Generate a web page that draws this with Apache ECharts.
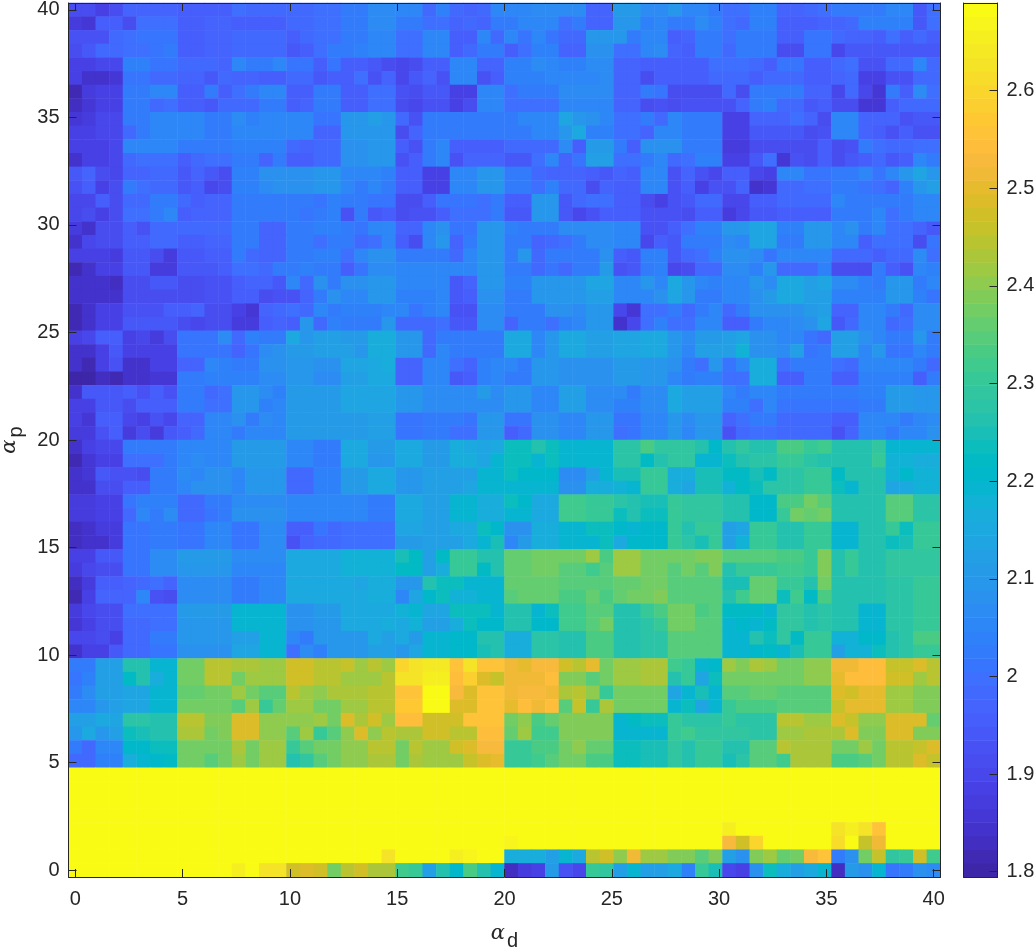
<!DOCTYPE html>
<html>
<head>
<meta charset="utf-8">
<style>html,body{margin:0;padding:0;background:#fff}#c{width:1034px;height:951px}</style>
<script src="https://cdn.jsdelivr.net/npm/echarts@6/dist/echarts.min.js"></script>
</head>
<body>
<div id="c"></div>
<script>
// Values, in hundredths. First row is the top of the plot (alpha_p = 40).
const rowsTopDown = [
[191,192,188,192,197,197,197,197,195,195,196,196,200,198,199,199,199,199,200,200,203,203,207,207,205,205,199,204,199,197,198,205,205,205,207,207,207,207,197,197,211,211,207,207,210,206,206,203,200,200,204,204,197,197,199,200,202,203,203,203,206,206,194,200],
[187,186,195,195,192,200,200,200,196,196,197,197,196,196,196,196,199,199,200,200,202,202,207,207,203,203,200,200,197,199,197,202,202,205,205,205,200,202,197,197,210,210,204,206,203,202,207,204,200,198,204,204,196,196,196,197,197,199,204,204,204,204,194,200],
[193,193,193,198,200,201,201,201,196,196,197,197,198,198,198,198,196,198,200,200,202,202,206,206,200,200,206,206,196,196,205,198,205,201,205,201,199,199,210,210,210,202,206,206,196,197,203,203,200,203,203,203,196,196,201,201,198,197,197,195,200,196,198,196],
[191,194,198,198,200,200,201,203,196,196,197,197,198,198,198,198,194,196,200,202,202,204,206,206,200,200,206,206,195,198,203,203,195,200,204,204,197,197,208,208,200,200,205,207,197,196,203,203,198,203,203,203,191,191,201,201,190,194,194,194,194,194,194,194],
[188,188,190,190,204,204,201,201,198,198,198,197,205,203,203,205,201,201,196,201,195,195,194,192,190,191,196,196,205,205,197,197,204,204,207,205,204,204,207,207,197,197,195,195,195,195,195,200,200,200,199,196,201,201,196,196,198,200,193,193,198,198,205,199],
[188,184,184,186,201,201,198,198,197,197,194,199,197,197,195,195,199,199,194,195,195,200,193,197,190,194,197,193,205,205,193,196,204,204,204,206,205,205,205,207,197,197,192,195,195,195,195,198,198,198,196,198,198,198,195,195,197,199,188,188,193,193,199,199],
[182,187,189,189,203,203,205,205,196,196,203,196,200,203,205,205,196,196,202,202,195,195,200,200,193,191,194,194,189,189,205,205,200,202,202,202,207,207,207,207,197,197,203,201,192,191,192,192,198,192,202,202,202,202,197,197,190,198,190,186,202,195,207,200],
[183,186,189,189,203,202,198,200,196,196,194,199,198,198,203,203,195,197,202,202,195,195,200,200,192,190,193,193,189,191,205,205,200,200,200,200,205,205,205,205,197,197,192,193,191,193,193,193,193,197,202,204,199,199,194,196,191,191,186,186,196,199,199,199],
[186,187,190,190,203,203,206,206,206,206,202,202,207,204,206,206,205,205,201,201,209,209,212,210,198,193,203,203,203,203,203,203,203,205,206,206,214,210,208,205,200,200,202,198,205,203,203,203,189,189,197,197,197,200,197,192,205,205,197,197,197,193,194,194],
[188,188,190,190,199,202,206,206,206,206,202,202,206,206,206,206,205,205,197,197,209,209,209,209,192,197,203,203,203,203,203,203,203,203,206,206,209,215,204,204,200,200,197,205,205,202,203,203,189,189,194,194,194,194,192,193,205,205,197,195,193,195,193,193],
[188,188,189,190,205,205,205,205,203,203,202,202,204,204,204,204,199,197,199,199,208,208,209,209,195,193,203,205,196,196,196,196,198,198,198,198,207,195,211,211,202,196,208,208,208,203,203,203,187,187,191,191,191,191,191,195,191,193,203,200,198,198,200,200],
[185,189,189,190,198,200,200,200,196,198,200,200,203,203,197,203,196,196,198,198,208,208,210,210,193,196,203,206,193,197,197,197,194,194,200,205,197,201,212,212,200,200,202,205,198,200,204,204,188,188,194,200,186,193,191,195,191,194,196,198,194,196,205,203],
[194,197,192,190,197,197,198,198,194,197,194,191,204,204,208,208,208,208,210,210,205,205,205,204,196,196,188,188,205,205,209,209,203,203,198,197,197,197,196,194,197,195,205,205,193,197,193,190,195,195,190,188,206,206,201,201,203,203,205,201,206,209,214,209],
[193,195,189,191,202,200,199,199,194,195,190,192,204,204,207,208,208,208,210,210,205,203,206,203,196,196,188,188,205,205,209,209,203,203,200,204,198,198,191,197,196,196,205,205,193,196,189,193,193,197,184,186,199,199,200,200,203,203,201,200,197,204,209,212],
[190,190,195,192,198,198,203,203,198,196,197,197,203,203,203,203,203,203,201,204,203,203,201,201,192,192,195,201,201,201,200,203,196,196,209,209,194,198,200,200,196,196,191,189,193,194,198,198,190,190,195,195,199,199,199,199,205,203,203,203,203,203,206,206],
[190,192,188,192,200,200,202,205,196,197,197,197,203,203,203,203,202,201,202,204,193,202,194,195,191,193,193,196,200,200,200,202,194,194,209,209,194,190,193,195,195,195,193,193,193,191,196,196,187,190,194,194,196,196,196,196,203,203,203,205,200,202,206,206],
[187,184,192,192,195,193,198,198,198,198,198,198,202,202,197,197,203,203,204,204,203,201,206,206,197,197,205,208,201,201,209,209,204,202,202,202,207,207,207,207,205,205,193,193,195,200,204,204,209,209,214,214,204,204,210,210,205,208,202,205,200,200,197,194],
[184,190,192,192,195,196,199,199,196,196,197,197,202,202,197,197,203,203,200,202,203,199,200,205,196,192,205,209,197,203,209,209,202,202,197,198,200,203,207,207,205,205,190,196,194,202,202,202,207,205,214,214,203,203,210,210,206,206,196,200,200,200,192,201],
[188,188,188,187,194,194,191,187,194,194,195,195,202,198,197,197,203,203,204,204,200,205,208,208,203,203,203,203,199,205,210,210,202,210,199,203,203,203,203,208,196,194,204,204,194,198,200,204,208,208,207,201,205,205,205,205,199,198,198,195,198,198,207,200],
[181,185,189,189,194,194,187,187,194,194,194,195,200,200,199,202,202,204,202,202,195,201,207,207,205,205,205,205,205,205,210,210,203,203,199,201,198,202,202,211,193,194,203,204,190,191,198,198,207,207,204,209,198,198,198,204,192,192,192,203,195,193,205,204],
[185,184,184,183,192,192,194,194,192,192,193,193,195,197,197,194,205,199,208,203,208,208,210,210,205,205,205,205,194,197,210,210,204,204,209,209,210,210,214,214,206,206,209,205,215,210,206,204,206,206,209,207,215,215,213,214,207,207,204,203,210,210,203,205],
[185,185,185,185,192,192,192,192,192,192,193,193,196,196,191,193,193,197,203,208,205,205,209,209,204,204,204,205,194,196,208,208,203,203,209,209,210,210,213,213,206,206,206,208,214,210,202,202,205,205,208,211,215,215,212,213,204,204,204,204,209,209,204,201],
[182,184,188,188,193,193,193,195,195,197,191,191,188,186,197,199,200,198,205,203,204,204,204,205,205,201,204,205,193,193,207,207,203,203,203,208,208,207,209,209,190,186,200,200,202,199,203,206,198,203,208,208,208,208,211,212,197,197,205,205,202,198,207,207],
[182,184,188,188,194,194,194,194,191,190,191,191,187,187,196,197,195,209,199,204,203,203,203,210,198,198,198,200,194,194,207,207,197,203,203,200,204,206,209,209,185,190,200,204,200,200,205,206,195,195,202,206,206,207,208,214,194,199,205,205,198,200,207,207],
[188,190,195,195,189,190,187,191,201,201,201,207,199,204,203,203,215,209,212,212,211,211,217,217,209,209,199,203,203,203,203,203,215,215,206,210,215,215,212,212,214,214,215,215,209,207,211,211,212,214,208,208,206,206,201,198,212,212,208,206,202,202,209,202],
[185,185,189,194,189,189,189,189,201,201,201,201,197,201,207,208,211,211,213,213,212,210,217,217,209,209,199,205,203,203,203,203,215,215,206,209,215,215,212,212,214,214,215,215,209,205,212,212,212,218,208,208,207,213,201,203,213,213,205,210,201,201,205,203],
[184,182,189,193,185,185,189,189,197,197,206,204,203,203,208,208,210,210,208,208,214,214,215,216,197,197,205,205,200,197,204,206,206,202,210,210,208,208,208,208,211,211,209,209,208,203,200,209,201,206,216,216,200,203,202,202,200,198,205,205,205,205,202,198],
[180,180,183,182,184,184,186,186,202,202,204,204,204,204,207,207,209,209,207,207,212,212,215,215,197,197,205,205,194,196,204,206,203,203,210,210,208,208,208,208,211,211,209,209,205,203,204,204,200,200,217,217,195,195,202,202,196,196,204,204,204,204,195,203],
[185,194,194,194,196,193,195,193,203,203,198,200,209,209,207,204,211,211,211,211,214,214,214,214,210,210,207,207,207,207,211,207,209,209,206,206,212,212,207,207,207,202,207,207,215,212,212,212,205,202,206,206,202,202,202,202,202,202,204,204,211,211,209,209],
[188,189,194,194,192,196,196,196,203,203,200,200,210,210,204,206,211,211,211,211,214,214,214,214,210,210,207,207,207,207,207,207,209,209,206,206,212,212,207,207,204,204,207,207,215,212,212,212,204,204,200,205,201,201,201,201,201,201,203,203,211,211,209,209],
[189,186,196,196,190,189,193,190,197,197,206,206,208,203,207,205,211,211,211,211,211,211,213,213,201,201,203,203,203,201,209,209,201,201,208,208,206,206,210,210,201,201,206,206,210,207,210,210,197,200,203,203,199,199,199,199,196,196,206,206,206,202,205,207],
[187,187,193,196,187,192,187,194,196,198,206,206,203,205,205,205,211,211,211,211,211,211,213,213,201,201,203,203,200,200,209,209,196,198,208,208,206,206,210,210,200,201,206,206,210,206,209,209,193,198,200,200,199,199,199,199,193,197,206,206,202,205,205,208],
[184,188,190,190,203,203,203,203,205,205,205,205,211,211,211,211,205,205,202,202,215,215,211,211,215,215,211,211,216,215,214,215,223,223,227,224,220,220,220,220,228,228,233,229,229,229,226,221,226,229,227,227,233,233,230,232,227,227,227,229,219,219,219,219],
[182,186,189,189,200,200,200,203,205,207,205,205,211,211,211,211,205,205,203,203,215,215,210,210,215,215,211,211,217,217,214,220,223,223,220,224,220,220,220,220,228,228,222,227,229,229,220,220,224,226,228,228,230,230,228,226,226,226,226,230,218,218,216,216],
[185,186,194,193,193,192,203,203,207,205,208,208,205,210,210,210,199,199,204,204,211,211,215,215,210,210,212,212,212,212,220,220,224,221,221,221,207,207,213,220,225,225,231,231,216,216,225,225,222,222,225,222,228,228,230,230,222,226,226,226,218,221,218,218],
[185,185,192,192,195,195,203,203,206,208,208,208,205,209,209,209,199,199,204,204,211,211,215,215,210,210,212,212,212,214,220,220,219,219,220,220,208,208,216,216,218,220,231,231,216,214,225,225,218,222,224,228,228,228,230,230,223,219,226,226,214,215,218,218],
[187,187,189,189,201,204,204,204,199,199,203,203,207,207,207,207,205,205,205,205,205,205,203,203,215,215,213,213,219,219,216,216,224,221,215,215,232,232,230,230,228,226,225,225,230,229,229,229,226,226,221,221,233,233,238,234,226,226,226,226,235,235,228,228],
[187,187,189,189,198,205,203,207,198,198,201,203,208,208,208,208,206,206,205,205,206,206,203,203,215,215,213,213,219,219,216,216,220,220,215,215,232,232,230,230,224,226,223,223,230,229,229,229,226,226,221,221,230,238,236,238,226,226,226,226,235,235,228,228],
[183,185,187,187,201,201,203,203,201,201,206,206,201,201,207,207,195,195,201,198,200,200,200,200,214,214,213,213,215,215,223,221,208,208,217,217,220,220,223,223,221,219,221,221,230,227,230,230,212,214,231,231,226,226,230,230,220,220,227,227,231,224,231,231],
[183,185,185,187,201,201,203,203,201,201,206,206,201,201,207,207,193,197,199,199,200,200,200,200,211,211,212,212,212,215,219,225,205,211,217,217,219,219,220,224,215,221,221,221,231,228,225,230,212,218,231,231,226,226,230,230,220,220,227,227,223,225,231,231],
[188,188,194,194,201,201,207,207,211,211,211,211,207,207,207,207,215,215,215,215,218,218,218,218,225,222,212,222,230,230,226,226,236,236,238,238,238,238,241,233,242,242,238,238,237,238,239,239,234,234,234,234,233,233,230,239,227,231,226,226,229,229,229,229],
[187,190,192,192,201,201,207,207,210,210,210,210,206,206,206,206,215,215,215,215,218,218,218,218,222,222,212,217,230,230,222,226,236,236,238,238,234,235,232,234,242,242,238,238,234,238,235,239,226,230,230,230,232,232,230,239,227,231,226,226,229,229,229,229],
[183,187,196,196,197,199,200,197,207,207,207,207,203,203,206,206,215,215,215,215,215,214,217,217,210,210,226,223,223,219,220,220,236,236,236,236,234,235,235,235,236,236,238,238,234,234,234,234,225,225,236,236,231,231,227,238,227,227,227,227,228,228,230,230],
[182,188,197,197,197,205,193,191,207,207,207,207,203,203,206,206,215,215,215,215,215,215,217,217,205,214,221,223,218,218,220,220,234,236,236,236,233,233,236,233,236,237,237,239,234,234,234,234,226,232,236,236,224,232,222,233,227,227,227,227,228,228,230,230],
[187,190,192,192,200,200,200,200,211,211,211,211,219,219,219,219,208,208,211,211,215,215,215,215,218,220,214,214,224,224,224,220,227,227,220,224,232,232,235,235,227,227,230,233,238,238,233,235,222,222,222,219,229,229,226,228,226,226,219,219,228,228,230,230],
[186,188,192,192,199,199,200,200,210,210,210,210,219,219,219,219,208,208,210,210,215,215,215,217,215,218,213,213,217,224,221,221,227,227,221,221,232,232,235,238,227,227,228,231,238,238,235,235,219,221,219,222,229,229,226,228,226,226,219,219,228,228,231,231],
[190,190,192,189,198,198,202,202,209,209,209,209,213,213,219,219,206,202,210,210,210,210,215,212,215,211,219,219,221,221,227,227,217,217,228,228,227,227,233,233,227,227,228,228,235,234,235,235,220,220,226,223,229,222,230,230,218,218,221,221,226,228,233,233],
[185,189,189,194,199,199,201,201,208,208,208,208,214,214,219,219,200,207,204,209,209,209,213,212,210,214,220,220,221,221,225,226,217,217,228,228,227,227,233,233,227,227,228,228,235,234,234,234,219,219,221,222,219,225,230,230,212,218,218,223,227,228,231,231],
[203,203,212,212,226,226,220,220,238,238,245,245,243,243,241,241,247,247,244,244,246,242,245,242,260,262,264,264,256,262,256,256,252,250,253,253,247,244,250,238,242,242,243,243,232,230,220,221,241,239,243,241,238,238,240,240,252,252,254,254,246,246,248,244],
[201,204,212,212,222,226,217,220,238,238,245,245,238,241,241,241,247,247,244,244,241,241,242,245,262,262,265,265,254,259,249,246,252,252,252,254,239,239,234,238,242,242,243,243,227,231,214,223,238,238,238,237,237,237,240,240,250,254,254,254,247,247,242,245],
[203,207,213,213,214,214,220,220,236,236,238,238,242,238,235,234,245,242,240,243,243,243,244,244,256,256,269,269,253,249,255,255,252,253,253,251,243,245,240,231,237,237,237,237,214,219,225,220,234,234,236,236,234,234,234,234,249,247,250,250,242,242,239,239],
[206,206,209,213,214,214,220,220,237,237,237,238,235,241,231,236,241,242,237,237,241,242,244,244,257,257,269,269,249,249,255,255,250,254,251,254,235,246,231,243,237,237,237,237,220,223,214,220,231,233,233,233,234,234,234,234,246,250,250,250,242,242,239,239],
[212,212,215,214,228,228,226,226,244,244,239,239,249,249,240,240,240,240,241,238,248,243,247,241,254,254,247,247,247,255,255,255,238,240,233,236,239,239,239,239,220,222,224,223,230,228,228,228,230,228,228,228,244,244,242,242,248,246,240,240,248,248,248,236],
[209,215,209,212,224,225,227,227,243,243,237,239,248,248,240,240,235,241,231,235,240,249,240,245,243,243,247,247,244,244,254,254,236,241,232,232,239,239,239,239,220,220,220,220,230,232,229,229,229,229,228,228,241,241,243,243,243,248,239,239,248,248,239,239],
[202,199,205,205,221,221,223,223,237,237,237,237,243,238,241,241,231,235,238,238,240,240,244,244,237,245,241,241,247,249,253,253,230,230,233,233,237,240,236,236,223,223,225,225,229,227,231,231,227,227,235,235,245,243,243,243,238,238,241,238,244,244,246,248],
[199,199,204,204,216,220,221,222,237,237,235,237,241,238,241,241,227,229,234,238,240,240,243,243,237,243,241,241,242,246,249,250,231,231,232,235,238,238,233,233,223,223,225,225,229,227,230,230,225,228,235,235,232,243,243,243,233,233,234,238,244,244,248,246],
[269,269,269,269,269,269,269,269,269,269,269,269,269,269,269,269,269,269,269,269,269,269,269,269,269,269,269,269,269,269,269,269,269,269,269,269,269,269,269,269,269,269,269,269,269,269,269,269,269,269,269,269,269,269,269,269,269,269,269,269,269,269,269,269],
[269,269,269,269,269,269,269,269,269,269,269,269,269,269,269,269,269,269,269,269,269,269,269,269,269,269,269,269,269,269,269,269,269,269,269,269,269,269,269,269,269,269,269,269,269,269,269,269,269,269,269,269,269,269,269,269,269,269,269,269,269,269,269,269],
[269,269,269,269,269,269,269,269,269,269,269,269,269,269,269,269,269,269,269,269,269,269,269,269,269,269,269,269,269,269,269,269,269,269,269,269,269,269,269,269,269,269,269,269,269,269,269,269,269,269,269,269,269,269,269,269,269,269,269,269,269,269,269,269],
[269,269,269,269,269,269,269,269,269,269,269,269,269,269,269,269,269,269,269,269,269,269,269,269,269,269,269,269,269,269,269,269,269,269,269,269,269,269,269,269,269,269,269,269,269,269,269,269,269,269,269,269,269,269,269,269,269,269,269,269,269,269,269,269],
[269,269,269,269,269,269,269,269,269,269,269,269,269,269,269,269,269,269,269,269,269,269,269,269,269,269,269,269,269,269,269,269,269,269,269,269,269,269,269,269,269,269,269,269,269,269,269,269,266,269,269,269,269,269,269,269,262,265,262,255,269,269,269,269],
[269,269,269,269,269,269,269,269,269,269,269,269,269,269,269,269,269,269,269,269,269,269,269,269,269,269,269,269,269,269,269,269,267,269,269,269,269,269,269,269,269,269,269,269,269,269,269,269,253,247,260,269,269,269,269,269,261,269,246,251,269,269,269,269],
[269,269,269,269,269,269,269,269,269,269,269,269,269,269,269,269,269,269,269,269,269,269,269,263,269,269,269,269,266,267,269,269,217,217,217,212,220,215,244,247,240,251,241,241,239,239,235,239,212,208,239,241,236,238,253,256,203,208,237,246,229,231,247,232],
[269,269,269,269,269,269,269,269,269,269,269,269,266,269,263,263,247,249,247,238,244,247,243,243,232,230,213,226,221,233,226,220,183,187,188,211,193,190,231,229,213,219,213,213,215,204,231,225,190,189,208,224,216,212,215,219,183,211,208,219,201,203,208,207]
];
const xTickValues = [0,5,10,15,20,25,30,35,40];
const yTickValues = [0,5,10,15,20,25,30,35,40];
const barTickValues = [1.8,1.9,2,2.1,2.2,2.3,2.4,2.5,2.6];
const axisStart = -0.3175, axisEnd = 40.3175;
const colorMin = 1.7946, colorMax = 2.6896;
const parula = [
[0.2422,0.1504,0.6603],[0.2504,0.1650,0.7076],[0.2578,0.1818,0.7511],[0.2647,0.1978,0.7952],
[0.2706,0.2147,0.8364],[0.2751,0.2342,0.8710],[0.2783,0.2559,0.8991],[0.2803,0.2782,0.9221],
[0.2813,0.3006,0.9414],[0.2810,0.3228,0.9579],[0.2795,0.3447,0.9717],[0.2760,0.3667,0.9829],
[0.2699,0.3892,0.9906],[0.2602,0.4123,0.9952],[0.2440,0.4358,0.9988],[0.2206,0.4603,0.9973],
[0.1963,0.4847,0.9892],[0.1834,0.5074,0.9798],[0.1786,0.5289,0.9682],[0.1764,0.5499,0.9520],
[0.1687,0.5703,0.9359],[0.1540,0.5902,0.9218],[0.1460,0.6091,0.9079],[0.1380,0.6276,0.8973],
[0.1248,0.6459,0.8883],[0.1113,0.6635,0.8763],[0.0952,0.6798,0.8598],[0.0689,0.6948,0.8394],
[0.0297,0.7082,0.8163],[0.0036,0.7203,0.7917],[0.0067,0.7312,0.7660],[0.0433,0.7411,0.7394],
[0.0964,0.7500,0.7120],[0.1408,0.7584,0.6842],[0.1717,0.7670,0.6554],[0.1938,0.7758,0.6251],
[0.2161,0.7843,0.5923],[0.2470,0.7918,0.5567],[0.2906,0.7973,0.5188],[0.3406,0.8008,0.4789],
[0.3909,0.8029,0.4354],[0.4456,0.8024,0.3909],[0.5044,0.7993,0.3480],[0.5616,0.7942,0.3045],
[0.6174,0.7876,0.2612],[0.6720,0.7793,0.2227],[0.7242,0.7698,0.1910],[0.7738,0.7598,0.1646],
[0.8203,0.7498,0.1535],[0.8634,0.7406,0.1596],[0.9035,0.7330,0.1774],[0.9393,0.7288,0.2100],
[0.9728,0.7298,0.2394],[0.9956,0.7434,0.2371],[0.9970,0.7659,0.2199],[0.9952,0.7861,0.1963],
[0.9892,0.8137,0.1885],[0.9786,0.8386,0.1766],[0.9676,0.8636,0.1643],[0.9610,0.8890,0.1537],
[0.9597,0.9135,0.1423],[0.9628,0.9373,0.1265],[0.9691,0.9606,0.1064],[0.9769,0.9839,0.0805]
];

const ink = '#262626', font = 'Liberation Sans', fs = 20;
const N = rowsTopDown.length;
const step = (colorMax - colorMin) / 64;
const cssColor = c => 'rgb(' + c.map(v => Math.round(v * 255)).join(',') + ')';
const pieces = parula.map((c, i) => {
  const p = { color: cssColor(c) };
  if (i > 0) p.gte = colorMin + i * step;
  if (i < 63) p.lt = colorMin + (i + 1) * step;
  return p;
});
const cells = [];
rowsTopDown.forEach((row, t) => row.forEach((v, c) => cells.push([c, N - 1 - t, v / 100])));
const barCells = parula.map((_, i) => [0, i, colorMin + (i + 0.5) * step]);
const index = n => Array.from({ length: n }, (_, i) => i);

const valueAxis = (gridIndex, position, min, max, ticks, labelled, margin) => ({
  type: 'value', gridIndex, position, min, max, z: 10, scale: false,
  axisLine: { show: true, onZero: false, lineStyle: { color: ink, width: 1 } },
  axisTick: { show: !!ticks, inside: true, length: 8, lineStyle: { color: ink, width: 1 }, customValues: ticks || [] },
  axisLabel: { show: !!labelled, color: ink, fontFamily: font, fontSize: fs, margin: margin || 9, customValues: labelled ? ticks : [] },
  splitLine: { show: false }
});
const hiddenBand = (gridIndex, n, position) => ({
  type: 'category', gridIndex, position, data: index(n), show: false,
  axisLine: { onZero: false }
});

const option = {
  animation: false,
  backgroundColor: '#ffffff',
  grid: [
    { left: 68.5, top: 3, width: 872, height: 874, outerBoundsMode: 'none', containLabel: false },
    { left: 963.5, top: 3, width: 34, height: 874, outerBoundsMode: 'none', containLabel: false }
  ],
  xAxis: [
    hiddenBand(0, 64, 'bottom'),
    Object.assign(valueAxis(0, 'bottom', axisStart, axisEnd, xTickValues, true, 12), {
      name: '{a|\u03b1}{s|d}', nameLocation: 'middle', nameGap: 40,
      nameTextStyle: { rich: {
        a: { fontFamily: 'DejaVu Serif', fontStyle: 'italic', fontSize: 21, color: ink },
        s: { fontFamily: font, fontSize: 20, color: ink, padding: [14, 0, 0, 2] }
      } }
    }),
    valueAxis(0, 'top', axisStart, axisEnd, xTickValues, false),
    hiddenBand(1, 1, 'bottom'),
    valueAxis(1, 'bottom', 0, 1, null, false),
    valueAxis(1, 'top', 0, 1, null, false)
  ],
  yAxis: [
    hiddenBand(0, 64, 'left'),
    Object.assign(valueAxis(0, 'left', axisStart, axisEnd, yTickValues, true), {
      name: '{a|\u03b1}{s|p}', nameLocation: 'middle', nameGap: 42, nameRotate: 90,
      nameTextStyle: { rich: {
        a: { fontFamily: 'DejaVu Serif', fontStyle: 'italic', fontSize: 21, color: ink },
        s: { fontFamily: font, fontSize: 20, color: ink, padding: [14, 0, 0, 2] }
      } }
    }),
    valueAxis(0, 'right', axisStart, axisEnd, yTickValues, false),
    hiddenBand(1, 64, 'left'),
    valueAxis(1, 'left', colorMin, colorMax, null, false),
    valueAxis(1, 'right', colorMin, colorMax, barTickValues, true)
  ],
  visualMap: {
    type: 'piecewise', show: false, dimension: 2, seriesIndex: [0, 1], pieces
  },
  series: [
    { type: 'heatmap', coordinateSystem: 'cartesian2d', xAxisIndex: 0, yAxisIndex: 0, data: cells, progressive: 0, silent: true },
    { type: 'heatmap', coordinateSystem: 'cartesian2d', xAxisIndex: 3, yAxisIndex: 3, data: barCells, progressive: 0, silent: true }
  ]
};
const chart = echarts.init(document.getElementById('c'), null, { renderer: 'canvas' });
chart.setOption(option);
</script>
</body>
</html>
